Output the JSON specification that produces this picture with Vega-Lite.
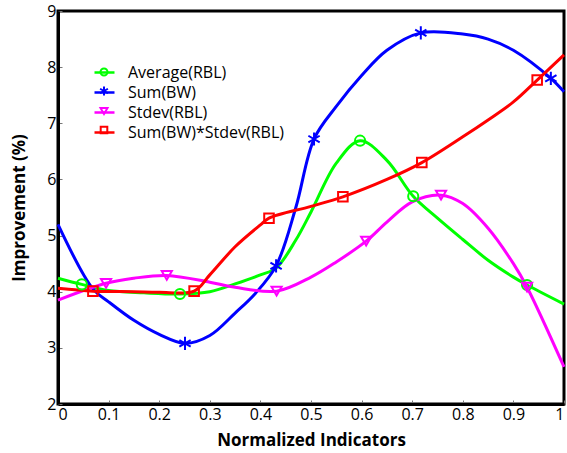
{
  "$schema": "https://vega.github.io/schema/vega-lite/v6.json",
  "width": 506,
  "height": 393,
  "autosize": {"type": "none"},
  "padding": {"left": 58, "top": 11, "right": 3, "bottom": 49},
  "background": "white",
  "config": {
    "font": "Open Sans",
    "view": {"stroke": "black", "strokeWidth": 3},
    "axis": {
      "grid": false,
      "domainColor": "black",
      "domainWidth": 3,
      "labelFont": "Open Sans",
      "labelFontSize": 16,
      "labelColor": "black",
      "titleFont": "Open Sans",
      "titleFontSize": 17,
      "titleFontWeight": "bold",
      "titleColor": "black",
      "tickColor": "#777",
      "tickSize": -4,
      "tickWidth": 1
    },
    "legend": {
      "labelFont": "Open Sans",
      "labelFontSize": 16,
      "labelColor": "black",
      "padding": 0
    }
  },
  "datasets": {
    "curves": [
      {"series": "Average(RBL)", "x": 0, "y": 4.24},
      {"series": "Average(RBL)", "x": 0.047, "y": 4.13},
      {"series": "Average(RBL)", "x": 0.1, "y": 4.02},
      {"series": "Average(RBL)", "x": 0.17, "y": 3.98},
      {"series": "Average(RBL)", "x": 0.241, "y": 3.96},
      {"series": "Average(RBL)", "x": 0.3, "y": 4.0},
      {"series": "Average(RBL)", "x": 0.35, "y": 4.14},
      {"series": "Average(RBL)", "x": 0.4, "y": 4.3},
      {"series": "Average(RBL)", "x": 0.431, "y": 4.42},
      {"series": "Average(RBL)", "x": 0.47, "y": 4.92},
      {"series": "Average(RBL)", "x": 0.5, "y": 5.42},
      {"series": "Average(RBL)", "x": 0.55, "y": 6.29},
      {"series": "Average(RBL)", "x": 0.597, "y": 6.69},
      {"series": "Average(RBL)", "x": 0.65, "y": 6.34},
      {"series": "Average(RBL)", "x": 0.702, "y": 5.7},
      {"series": "Average(RBL)", "x": 0.75, "y": 5.31},
      {"series": "Average(RBL)", "x": 0.8, "y": 4.93},
      {"series": "Average(RBL)", "x": 0.85, "y": 4.56},
      {"series": "Average(RBL)", "x": 0.9, "y": 4.26},
      {"series": "Average(RBL)", "x": 0.927, "y": 4.12},
      {"series": "Average(RBL)", "x": 1, "y": 3.78},

      {"series": "Sum(BW)", "x": 0, "y": 5.2},
      {"series": "Sum(BW)", "x": 0.069, "y": 4.05},
      {"series": "Sum(BW)", "x": 0.1, "y": 3.82},
      {"series": "Sum(BW)", "x": 0.15, "y": 3.49},
      {"series": "Sum(BW)", "x": 0.2, "y": 3.24},
      {"series": "Sum(BW)", "x": 0.251, "y": 3.08},
      {"series": "Sum(BW)", "x": 0.3, "y": 3.22},
      {"series": "Sum(BW)", "x": 0.35, "y": 3.62},
      {"series": "Sum(BW)", "x": 0.39, "y": 3.97},
      {"series": "Sum(BW)", "x": 0.431, "y": 4.46},
      {"series": "Sum(BW)", "x": 0.47, "y": 5.5},
      {"series": "Sum(BW)", "x": 0.506, "y": 6.72},
      {"series": "Sum(BW)", "x": 0.55, "y": 7.3},
      {"series": "Sum(BW)", "x": 0.6, "y": 7.85},
      {"series": "Sum(BW)", "x": 0.65, "y": 8.3},
      {"series": "Sum(BW)", "x": 0.717, "y": 8.61},
      {"series": "Sum(BW)", "x": 0.8, "y": 8.59},
      {"series": "Sum(BW)", "x": 0.85, "y": 8.5},
      {"series": "Sum(BW)", "x": 0.9, "y": 8.3},
      {"series": "Sum(BW)", "x": 0.974, "y": 7.8},
      {"series": "Sum(BW)", "x": 1, "y": 7.56},

      {"series": "Stdev(RBL)", "x": 0, "y": 3.85},
      {"series": "Stdev(RBL)", "x": 0.095, "y": 4.15},
      {"series": "Stdev(RBL)", "x": 0.15, "y": 4.24},
      {"series": "Stdev(RBL)", "x": 0.215, "y": 4.29},
      {"series": "Stdev(RBL)", "x": 0.3, "y": 4.17},
      {"series": "Stdev(RBL)", "x": 0.35, "y": 4.08},
      {"series": "Stdev(RBL)", "x": 0.432, "y": 4.01},
      {"series": "Stdev(RBL)", "x": 0.5, "y": 4.26},
      {"series": "Stdev(RBL)", "x": 0.55, "y": 4.53},
      {"series": "Stdev(RBL)", "x": 0.609, "y": 4.9},
      {"series": "Stdev(RBL)", "x": 0.65, "y": 5.24},
      {"series": "Stdev(RBL)", "x": 0.7, "y": 5.6},
      {"series": "Stdev(RBL)", "x": 0.757, "y": 5.72},
      {"series": "Stdev(RBL)", "x": 0.8, "y": 5.57},
      {"series": "Stdev(RBL)", "x": 0.85, "y": 5.13},
      {"series": "Stdev(RBL)", "x": 0.9, "y": 4.5},
      {"series": "Stdev(RBL)", "x": 0.927, "y": 4.08},
      {"series": "Stdev(RBL)", "x": 1, "y": 2.66},

      {"series": "Sum(BW)*Stdev(RBL)", "x": 0, "y": 4.06},
      {"series": "Sum(BW)*Stdev(RBL)", "x": 0.069, "y": 4.01},
      {"series": "Sum(BW)*Stdev(RBL)", "x": 0.15, "y": 4.0},
      {"series": "Sum(BW)*Stdev(RBL)", "x": 0.2, "y": 3.99},
      {"series": "Sum(BW)*Stdev(RBL)", "x": 0.269, "y": 4.01},
      {"series": "Sum(BW)*Stdev(RBL)", "x": 0.3, "y": 4.3},
      {"series": "Sum(BW)*Stdev(RBL)", "x": 0.35, "y": 4.8},
      {"series": "Sum(BW)*Stdev(RBL)", "x": 0.4, "y": 5.19},
      {"series": "Sum(BW)*Stdev(RBL)", "x": 0.417, "y": 5.31},
      {"series": "Sum(BW)*Stdev(RBL)", "x": 0.5, "y": 5.52},
      {"series": "Sum(BW)*Stdev(RBL)", "x": 0.563, "y": 5.69},
      {"series": "Sum(BW)*Stdev(RBL)", "x": 0.65, "y": 6.0},
      {"series": "Sum(BW)*Stdev(RBL)", "x": 0.719, "y": 6.3},
      {"series": "Sum(BW)*Stdev(RBL)", "x": 0.8, "y": 6.76},
      {"series": "Sum(BW)*Stdev(RBL)", "x": 0.85, "y": 7.06},
      {"series": "Sum(BW)*Stdev(RBL)", "x": 0.9, "y": 7.38},
      {"series": "Sum(BW)*Stdev(RBL)", "x": 0.947, "y": 7.77},
      {"series": "Sum(BW)*Stdev(RBL)", "x": 1, "y": 8.22}
    ],
    "markers": [
      {"curve": "Average(RBL)", "x": 0.047, "y": 4.13},
      {"curve": "Average(RBL)", "x": 0.241, "y": 3.96},
      {"curve": "Average(RBL)", "x": 0.597, "y": 6.69},
      {"curve": "Average(RBL)", "x": 0.702, "y": 5.7},
      {"curve": "Average(RBL)", "x": 0.927, "y": 4.12},
      {"curve": "Sum(BW)", "x": 0.251, "y": 3.08},
      {"curve": "Sum(BW)", "x": 0.431, "y": 4.46},
      {"curve": "Sum(BW)", "x": 0.506, "y": 6.72},
      {"curve": "Sum(BW)", "x": 0.717, "y": 8.61},
      {"curve": "Sum(BW)", "x": 0.974, "y": 7.8},
      {"curve": "Stdev(RBL)", "x": 0.095, "y": 4.15},
      {"curve": "Stdev(RBL)", "x": 0.215, "y": 4.29},
      {"curve": "Stdev(RBL)", "x": 0.432, "y": 4.01},
      {"curve": "Stdev(RBL)", "x": 0.609, "y": 4.9},
      {"curve": "Stdev(RBL)", "x": 0.757, "y": 5.72},
      {"curve": "Stdev(RBL)", "x": 0.927, "y": 4.08},
      {"curve": "Sum(BW)*Stdev(RBL)", "x": 0.069, "y": 4.01},
      {"curve": "Sum(BW)*Stdev(RBL)", "x": 0.269, "y": 4.01},
      {"curve": "Sum(BW)*Stdev(RBL)", "x": 0.417, "y": 5.31},
      {"curve": "Sum(BW)*Stdev(RBL)", "x": 0.563, "y": 5.69},
      {"curve": "Sum(BW)*Stdev(RBL)", "x": 0.719, "y": 6.3},
      {"curve": "Sum(BW)*Stdev(RBL)", "x": 0.947, "y": 7.77}
    ]
  },
  "encoding": {
    "x": {
      "field": "x",
      "type": "quantitative",
      "scale": {"domain": [0, 1], "nice": false},
      "axis": {
        "title": "Normalized Indicators",
        "values": [0, 0.1, 0.2, 0.3, 0.4, 0.5, 0.6, 0.7, 0.8, 0.9, 1],
        "format": ".1~f",
        "labelPadding": 6,
        "titlePadding": 10
      }
    },
    "y": {
      "field": "y",
      "type": "quantitative",
      "scale": {"domain": [2, 9], "nice": false},
      "axis": {
        "title": "Improvement (%)",
        "values": [2, 3, 4, 5, 6, 7, 8, 9],
        "labelPadding": 6,
        "titlePadding": 18
      }
    }
  },
  "layer": [
    {
      "data": {"name": "curves"},
      "mark": {"type": "line", "interpolate": "catmull-rom", "strokeWidth": 3},
      "encoding": {
        "color": {
          "field": "series",
          "type": "nominal",
          "sort": ["Average(RBL)", "Sum(BW)", "Stdev(RBL)", "Sum(BW)*Stdev(RBL)"],
          "scale": {
            "range": ["#00ff00", "#0000ff", "#ff00ff", "#ff0000"]
          },
          "legend": {
            "title": null,
            "orient": "none",
            "legendX": 35,
            "legendY": 50,
            "symbolType": "stroke",
            "symbolSize": 400,
            "symbolStrokeWidth": 2.5,
            "labelOffset": 12,
            "rowPadding": -3
          }
        }
      }
    },
    {
      "data": {"name": "markers"},
      "mark": {"type": "point", "filled": false, "strokeWidth": 2, "size": 841, "opacity": 1},
      "encoding": {
        "stroke": {
          "field": "curve",
          "type": "nominal",
          "scale": {
            "domain": ["Average(RBL)", "Sum(BW)", "Stdev(RBL)", "Sum(BW)*Stdev(RBL)"],
            "range": ["#00ff00", "#0000ff", "#ff00ff", "#ff0000"]
          },
          "legend": {
            "title": null,
            "orient": "none",
            "legendX": 35,
            "legendY": 50,
            "symbolSize": 400,
            "symbolStrokeWidth": 2,
            "labelOffset": 12,
            "rowPadding": -3,
            "labelExpr": "''"
          }
        },
        "shape": {
          "field": "curve",
          "type": "nominal",
          "scale": {
            "domain": ["Average(RBL)", "Sum(BW)", "Stdev(RBL)", "Sum(BW)*Stdev(RBL)"],
            "range": [
              "M0.35,0A0.35,0.35,0,1,1,-0.35,0A0.35,0.35,0,1,1,0.35,0Z",
              "M0,-0.45V0.45M-0.39,-0.225L0.39,0.225M-0.39,0.225L0.39,-0.225",
              "M-0.35,-0.3L0.35,-0.3L0,0.3Z",
              "M-0.33,-0.33H0.33V0.33H-0.33Z"
            ]
          },
          "legend": {
            "title": null,
            "orient": "none",
            "legendX": 35,
            "legendY": 50,
            "symbolSize": 400,
            "symbolStrokeWidth": 2,
            "labelOffset": 12,
            "rowPadding": -3,
            "labelExpr": "''"
          }
        }
      }
    }
  ]
}
